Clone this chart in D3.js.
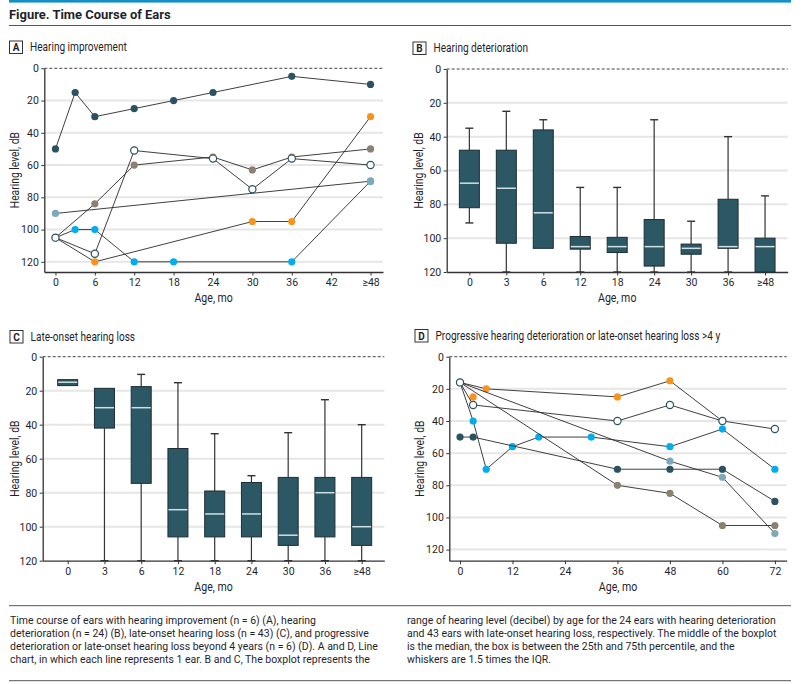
<!DOCTYPE html>
<html><head><meta charset="utf-8">
<script src="https://cdn.jsdelivr.net/npm/d3@7"></script>
<style>
body{margin:0;background:#fff;}
svg text{font-family:"Liberation Sans Narrow","Arial Narrow","Roboto",sans-serif;fill:#1f1f2c;}
</style></head><body>
<svg id="c" width="801" height="684"></svg>
<script>
// ---------------- DATA ----------------
const yTicks = [0, 20, 40, 60, 80, 100, 120];

// Panel A: hearing improvement (line chart, months vs dB)
const monthTicksA = [0, 6, 12, 18, 24, 30, 36, 42, 48];
const monthLabelsA = ["0", "6", "12", "18", "24", "30", "36", "42", "≥48"];
const earA_dark   = [[0,50],[3,15],[6,30],[12,25],[18,20],[24,15],[36,5],[48,10]];
const earA_brown  = [[0,105],[6,84],[12,60],[24,55],[30,63],[36,55],[48,50]];
const earA_orange = [[0,105],[6,120],[30,95],[36,95],[48,30]];
const earA_cyan   = [[0,105],[3,100],[6,100],[12,120],[18,120],[36,120],[48,70]];
const earA_slate  = [[0,90],[48,70]];
const earA_open   = [[0,105],[6,115],[12,51],[24,56],[30,75],[36,56],[48,60]];

// Panel B: hearing deterioration (boxplot)
const categoriesB = ["0", "3", "6", "12", "18", "24", "30", "36", "≥48"];
const whiskerTopB = [35, 25, 30, 70, 70, 30, 90, 40, 75];
const q1B         = [48, 48, 36, 99, 99.5, 89, 103.5, 77, 100];
const medianB     = [67.5, 70.5, 85, 105, 105, 105, 106, 105, 105];
const q3B         = [82, 103, 106, 106.5, 108.5, 116.5, 109.5, 106, 120];
const whiskerBotB = [91, 120, 106, 120, 120, 120, 120, 120, 120];

// Panel C: late-onset hearing loss (boxplot)
const categoriesC = ["0", "3", "6", "12", "18", "24", "30", "36", "≥48"];
const whiskerTopC = [13.5, 18.6, 10.4, 15.3, 45.3, 70, 44.7, 25.3, 40];
const q1C         = [13.5, 18.6, 17.6, 54, 79, 74, 71, 71, 71];
const medianC     = [15, 30, 30, 90, 92.5, 92.5, 105, 80, 100];
const q3C         = [17, 42, 74.5, 106, 106, 106, 111, 106, 111];
const whiskerBotC = [17, 120, 120, 120, 120, 120, 120, 120, 120];

// Panel D: progressive deterioration / late onset > 4 y (line chart)
const monthTicksD = [0, 12, 24, 36, 48, 60, 72];
const earD_orange = [[0,16],[6,20],[36,25],[48,15],[60,40]];
const earD_orangeSingle = [[3,25]];
const earD_cyan   = [[0,16],[3,40],[6,70],[12,56],[18,50],[30,50],[48,56],[60,45],[72,70]];
const earD_dark   = [[0,50],[3,50],[36,70],[48,70],[60,70],[72,90]];
const earD_slate  = [[0,16],[48,65],[60,75],[72,110]];
const earD_brown  = [[0,16],[36,80],[48,85],[60,105],[72,105]];
const earD_open   = [[0,16],[3,30],[36,40],[48,30],[60,40],[72,45]];

const captionLeft = [
  "Time course of ears with hearing improvement (n = 6) (A), hearing",
  "deterioration (n = 24) (B), late-onset hearing loss (n = 43) (C), and progressive",
  "deterioration or late-onset hearing loss beyond 4 years (n = 6) (D). A and D, Line",
  "chart, in which each line represents 1 ear. B and C, The boxplot represents the"
];
const captionRight = [
  "range of hearing level (decibel) by age for the 24 ears with hearing deterioration",
  "and 43 ears with late-onset hearing loss, respectively. The middle of the boxplot",
  "is the median, the box is between the 25th and 75th percentile, and the",
  "whiskers are 1.5 times the IQR."
];

// ---------------- STYLE ----------------
const C = {dark:"#2b5260", brown:"#8c8071", orange:"#f7941d", cyan:"#00aeef", slate:"#7fa8b9",
           box:"#2c5764", boxStroke:"#1d2d33", median:"#cfe1e4", line:"#2a2a2a", grid:"#e6e6e6", axis:"#333"};
const svg = d3.select("#c");

// condensed text helper (horizontal squeeze to mimic the narrow journal font)
function ctext(parent, x, y, str, size, k, anchor, extra) {
  const t = parent.append("text")
    .attr("transform", `translate(${x},${y}) ${extra || ""} scale(${k},1)`)
    .attr("font-size", size).attr("text-anchor", anchor || "start").text(str);
  return t;
}

// header
svg.append("rect").attr("x", 9).attr("y", 0).attr("width", 782).attr("height", 2.6).attr("fill", "#1590c6");
ctext(svg, 9, 19, "Figure. Time Course of Ears", 13.5, 0.96).attr("font-weight", "bold");
svg.append("line").attr("x1", 9).attr("x2", 791).attr("y1", 25.5).attr("y2", 25.5).attr("stroke", "#555").attr("stroke-width", 1);

function panelLabel(x, y, letter, title) {
  svg.append("rect").attr("x", x).attr("y", y).attr("width", 13).attr("height", 12.5)
    .attr("fill", "#fff").attr("stroke", "#333").attr("stroke-width", 1);
  svg.append("text").attr("x", x + 6.5).attr("y", y + 10).attr("text-anchor", "middle")
    .attr("font-size", 10).attr("font-weight", "bold").text(letter);
  ctext(svg, x + 20.5, y + 10.3, title, 12, 0.84);
}
panelLabel(9.5, 41, "A", "Hearing improvement");
panelLabel(413, 42, "B", "Hearing deterioration");
panelLabel(10, 330.5, "C", "Late-onset hearing loss");
panelLabel(415, 329.5, "D", "Progressive hearing deterioration or late-onset hearing loss >4 y");

function styleAxis(g) {
  g.select(".domain").attr("stroke", C.axis).attr("stroke-width", 1.3);
  g.selectAll(".tick line").attr("stroke", C.axis).attr("stroke-width", 1);
  g.selectAll(".tick text").attr("font-size", 10.5).attr("fill", "#1f1f2c")
    .style("font-family", '"Liberation Sans Narrow","Arial Narrow","Roboto",sans-serif');
}

function frame(o) {
  const g = svg.append("g");
  // grid
  g.selectAll(".grid").data(yTicks.filter(t => t > 0 && o.y(t) < o.bottom - 2)).join("line")
    .attr("x1", o.left).attr("x2", o.right).attr("y1", d => o.y(d)).attr("y2", d => o.y(d))
    .attr("stroke", C.grid).attr("stroke-width", 2);
  // zero dashed
  g.append("line").attr("x1", o.left).attr("x2", o.right).attr("y1", o.y(0)).attr("y2", o.y(0))
    .attr("stroke", "#444").attr("stroke-width", 1).attr("stroke-dasharray", "3,2");
  // y axis
  const ya = g.append("g").attr("transform", `translate(${o.left},0)`)
    .call(d3.axisLeft(o.y).tickValues(yTicks).tickSizeInner(3).tickSizeOuter(0).tickPadding(2.5));
  styleAxis(ya);
  // x axis
  const xa = g.append("g").attr("transform", `translate(0,${o.bottom})`)
    .call(o.xAxis.tickSizeInner(3.5).tickSizeOuter(0).tickPadding(3));
  styleAxis(xa);
  // titles
  ctext(g, o.yTitleX, (o.y(0) + o.bottom) / 2, "Hearing level, dB", 12, 0.86, "middle", "rotate(-90)");
  ctext(g, (o.left + o.right) / 2, o.bottom + 30, "Age, mo", 12, 0.88, "middle");
}

function lineSeries(x, y, data, fill, open) {
  const line = d3.line().x(d => x(d[0])).y(d => y(d[1]));
  svg.append("path").attr("d", line(data)).attr("fill", "none").attr("stroke", C.line).attr("stroke-width", 0.9);
  svg.append("g").selectAll("circle").data(data).join("circle")
    .attr("cx", d => x(d[0])).attr("cy", d => y(d[1])).attr("r", 3.6)
    .attr("fill", open ? "#fff" : fill).attr("stroke", open ? C.dark : "none").attr("stroke-width", 1.2);
}

// ---------- Panel A ----------
{
  const left = 44.3, right = 383, bottom = 272;
  const x = d3.scaleLinear().domain([-1.7, 49.9]).range([left, right]);
  const y = d3.scaleLinear().domain([0, 126.3]).range([68.3, bottom]);
  frame({left, right, bottom, y, yTitleX: 18.5,
    xAxis: d3.axisBottom(x).tickValues(monthTicksA).tickFormat((d, i) => monthLabelsA[i])});
  lineSeries(x, y, earA_dark, C.dark);
  lineSeries(x, y, earA_brown, C.brown);
  lineSeries(x, y, earA_orange, C.orange);
  lineSeries(x, y, earA_cyan, C.cyan);
  lineSeries(x, y, earA_slate, C.slate);
  lineSeries(x, y, earA_open, null, true);
}

// ---------- Box plots ----------
function boxPanel(o, cats, wTop, q1, med, q3, wBot) {
  const x = d3.scalePoint().domain(cats).range([o.left, o.right]).padding(o.padding).align(o.align);
  const y = d3.scaleLinear().domain([0, 120]).range([o.top, o.bottom]);
  frame({left: o.left, right: o.right, bottom: o.bottom, y, yTitleX: o.yTitleX,
    xAxis: d3.axisBottom(x)});
  const bw = 20, cw = 8;
  const g = svg.append("g");
  cats.forEach((c, i) => {
    const cx = x(c);
    if (wTop[i] < q1[i]) {
      g.append("line").attr("x1", cx).attr("x2", cx).attr("y1", y(wTop[i])).attr("y2", y(q1[i])).attr("stroke", "#333").attr("stroke-width", 1.2);
      g.append("line").attr("x1", cx - cw / 2).attr("x2", cx + cw / 2).attr("y1", y(wTop[i])).attr("y2", y(wTop[i])).attr("stroke", "#333").attr("stroke-width", 1.4);
    }
    if (wBot[i] > q3[i]) {
      g.append("line").attr("x1", cx).attr("x2", cx).attr("y1", y(q3[i])).attr("y2", y(wBot[i])).attr("stroke", "#333").attr("stroke-width", 1.2);
      g.append("line").attr("x1", cx - cw / 2).attr("x2", cx + cw / 2).attr("y1", y(wBot[i])).attr("y2", y(wBot[i])).attr("stroke", "#333").attr("stroke-width", 1.4);
    }
    g.append("rect").attr("x", cx - bw / 2).attr("y", y(q1[i])).attr("width", bw).attr("height", y(q3[i]) - y(q1[i]))
      .attr("fill", C.box).attr("stroke", C.boxStroke).attr("stroke-width", 1);
    g.append("line").attr("x1", cx - bw / 2 + 0.5).attr("x2", cx + bw / 2 - 0.5).attr("y1", y(med[i])).attr("y2", y(med[i]))
      .attr("stroke", C.median).attr("stroke-width", 1.5);
  });
}
boxPanel({left: 446.7, right: 787.7, top: 69, bottom: 272, padding: 0.613, align: 0.5, yTitleX: 422.5},
  categoriesB, whiskerTopB, q1B, medianB, q3B, whiskerBotB);
boxPanel({left: 42.7, right: 384.3, top: 356.7, bottom: 560.7, padding: 0.648, align: 0.525, yTitleX: 18.5},
  categoriesC, whiskerTopC, q1C, medianC, q3C, whiskerBotC);

// ---------- Panel D ----------
{
  const left = 449.3, right = 786.7, bottom = 560.7;
  const x = d3.scaleLinear().domain([-2.45, 74.7]).range([left, right]);
  const y = d3.scaleLinear().domain([0, 126.9]).range([356.7, bottom]);
  frame({left, right, bottom, y, yTitleX: 424,
    xAxis: d3.axisBottom(x).tickValues(monthTicksD)});
  lineSeries(x, y, earD_orange, C.orange);
  lineSeries(x, y, earD_orangeSingle, C.orange);
  lineSeries(x, y, earD_cyan, C.cyan);
  lineSeries(x, y, earD_dark, C.dark);
  lineSeries(x, y, earD_slate, C.slate);
  lineSeries(x, y, earD_brown, C.brown);
  lineSeries(x, y, earD_open, null, true);
}

// ---------- Caption ----------
svg.append("line").attr("x1", 9).attr("x2", 791).attr("y1", 605.7).attr("y2", 605.7).attr("stroke", "#555").attr("stroke-width", 1);
svg.append("line").attr("x1", 9).attr("x2", 791).attr("y1", 680.7).attr("y2", 680.7).attr("stroke", "#555").attr("stroke-width", 1);
// measure the widest caption line and squeeze all lines by the same factor
const probe = svg.append("text").attr("font-size", 11.3).text(captionRight[0]);
const kCap = Math.min(1, 369 / probe.node().getComputedTextLength());
probe.remove();
const capL = svg.append("g"), capR = svg.append("g");
captionLeft.forEach((s, i) => ctext(capL, 10, 624.4 + i * 12.7, s, 11.3, kCap));
captionRight.forEach((s, i) => ctext(capR, 407, 624.4 + i * 12.7, s, 11.3, kCap));
</script>
</body></html>
